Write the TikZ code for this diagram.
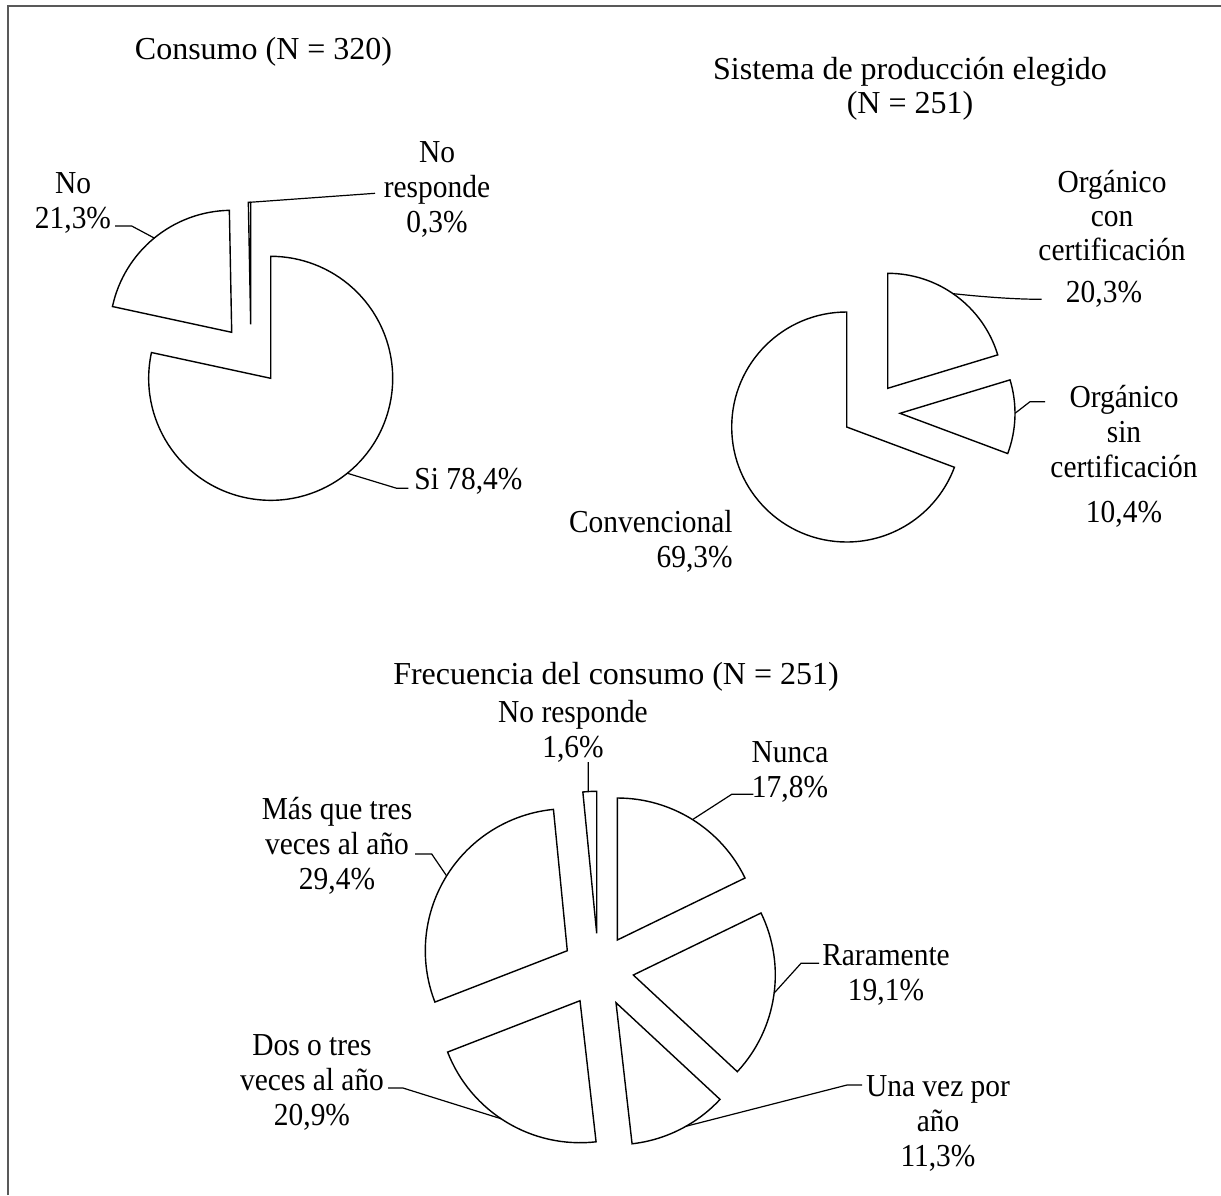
\documentclass[tikz,border=0pt]{standalone}
\usepackage{fontspec}
\setmainfont{Liberation Serif}
\newfontfamily\narrowfont[FakeStretch=0.92]{Liberation Serif}

\begin{document}
\begin{tikzpicture}[x=0.5pt,y=0.5pt,
  slice/.style={draw=black,line width=0.7pt,fill=white},
  lead/.style={draw=black,line width=0.6pt},
  ttl/.style={inner sep=0pt,align=center,font=\fontsize{16}{17}\selectfont},
  lbl/.style={inner sep=0pt,align=center,font=\narrowfont\fontsize{16}{17.5}\selectfont},
  lbltight/.style={lbl,font=\narrowfont\fontsize{16}{17}\selectfont},
  frame/.style={draw=black!65,line width=1pt}]
\useasboundingbox (0,0) rectangle (1221,-1195);
\draw[frame] (8,-1195) -- (8,-6) -- (1221,-6);

\foreach \nm/\vx/\vy/\a/\b/\r in {si/270.7/-378.3/-192.2/90/122, no/231.7/-332.3/91.1/167.8/122,
    nr/250.7/-324.3/90/91.1/122, conv/846.7/-427/90/339.5/115, con/887.7/-388.3/16.9/90/115,
    sin/900/-413.3/-20.5/16.9/115, nun/617.3/-940/25.9/90/142, rar/633.3/-975/-42.9/25.9/142,
    una/616/-1002.7/-83.5/-42.9/142, dos/580/-1000.7/-158.8/-83.5/142, mas/567.3/-950.7/95.6/201.2/142,
    nrf/596.7/-933.3/90/95.6/142}
  \draw[slice] (\vx,\vy) coordinate (v\nm) -- ++(\a:\r) arc[start angle=\a, end angle=\b, radius=\r] -- cycle;

\foreach \nm/\ang/\r in {si/-51.1/122, no/129.4/122, nr/90.5/122, con/55.4/115, sin/0/115,
    nun/58/142, rar/-7.3/142, una/-60.5/142, dos/236.2/142, mas/148.2/142, nrf/93.4/142}
  \path (v\nm) ++(\ang:\r) coordinate (a\nm);

\foreach \nm/\kx/\ky/\ex/\ey in {si/396.7/-488.3/408.3/-488.3, no/131.7/-226/115/-226,
    sin/1030/-401.7/1045/-401.7, nun/731.7/-794.3/753.3/-794.3, rar/801/-963.3/819/-963.3,
    una/847/-1085/862/-1085, dos/403/-1088/388/-1088, mas/431.7/-854/415/-854}
  \draw[lead] (a\nm) -- (\kx,\ky) -- (\ex,\ey) coordinate (e\nm);
\coordinate (enr) at (375,-193.3);
\coordinate (econ) at (1041.7,-299.3);
\coordinate (enrf) at (588.3,-762);
\draw[lead] (anr) -- (enr);
\draw[lead] (acon) .. controls (975,-296) and (1010,-299.3) .. (econ);
\draw[lead] (anrf) -- (enrf);

\node[ttl] (tCons) at (263.5,-52) {Consumo (N = 320)};
\node[lbl] (lNo) at (73,-202.5) {No\\21,3\%};
\node[lbl] (lNoR) at (437,-189) {No\\responde\\0,3\%};
\node[lbl,anchor=west] (lSi) at (414,-481) {Si 78,4\%};

\node[ttl] (tSis) at (910,-88.5) {Sistema de producción elegido\\(N = 251)};
\node[lbltight] (lCon) at (1112,-239) {Orgánico\\con\\certificación\\[4pt]\hspace*{-8pt}20,3\%};
\node[lbl] (lSin) at (1124,-456) {Orgánico\\sin\\certificación\\[5pt]10,4\%};
\node[lbl,align=right,anchor=east] (lConv) at (733,-541) {Convencional\\69,3\%};

\node[ttl] (tFre) at (616,-677) {Frecuencia del consumo (N = 251)};
\node[lbl] (lNoRf) at (573,-731) {No responde\\1,6\%};
\node[lbl] (lNun) at (790,-771.5) {Nunca\\17,8\%};
\node[lbl] (lMas) at (337,-846) {Más que tres\\veces al año\\29,4\%};
\node[lbl] (lRar) at (886,-974.5) {Raramente\\19,1\%};
\node[lbl] (lUna) at (938,-1123.5) {Una vez por\\año\\11,3\%};
\node[lbl] (lDos) at (312,-1082) {Dos o tres\\veces al año\\20,9\%};
\end{tikzpicture}
\end{document}
